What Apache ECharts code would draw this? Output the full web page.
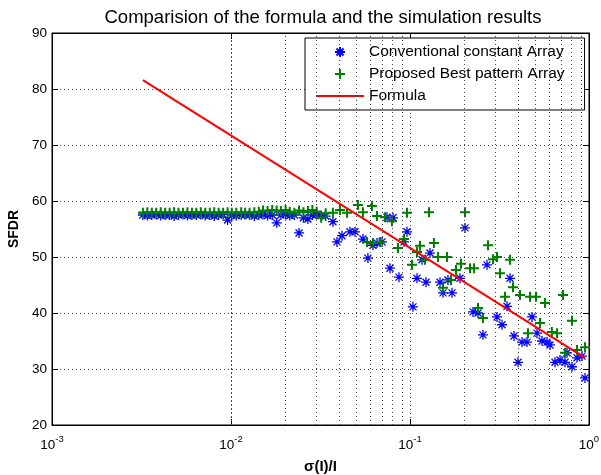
<!DOCTYPE html>
<html>
<head>
<meta charset="utf-8">
<script src="https://cdn.jsdelivr.net/npm/echarts@6/dist/echarts.min.js"></script>
<style>
html, body { margin: 0; padding: 0; background: #fff; }
#main { width: 601px; height: 475px; }
</style>
</head>
<body>
<div id="main"></div>
<script>
// flat part (sigma < 0.035): both arrays share these x values
var flatX = [0.00322, 0.00341, 0.00361, 0.00382, 0.00405, 0.00429, 0.00454, 0.00481, 0.00509, 0.00539,
	0.00571, 0.00605, 0.00640, 0.00678, 0.00718, 0.00761, 0.00806, 0.00853, 0.00904, 0.00957,
	0.0101, 0.0107, 0.0114, 0.0120, 0.0127, 0.0135, 0.0143, 0.0151, 0.0160, 0.0170,
	0.0180, 0.0190, 0.0202, 0.0213, 0.0226, 0.0240, 0.0254, 0.0269, 0.0285, 0.0301,
	0.0319, 0.0338];
var blueFlatY = [57.5, 57.4, 57.5, 57.6, 57.4, 57.5, 57.5, 57.3, 57.5, 57.6,
	57.4, 57.5, 57.5, 57.6, 57.4, 57.5, 57.3, 57.5, 57.6, 56.6,
	57.5, 57.4, 57.5, 57.6, 57.5, 57.3, 57.5, 57.6, 57.4, 57.5,
	56.1, 57.5, 57.6, 57.4, 57.5, 54.3, 57.0, 56.8, 57.5, 57.6,
	57.4, 57.3];
var greenFlatY = [57.9, 58.0, 57.9, 57.9, 58.0, 57.9, 57.9, 58.0, 57.9, 57.9,
	58.0, 57.9, 57.9, 58.0, 57.9, 57.9, 58.0, 57.9, 57.9, 58.0,
	57.9, 57.9, 58.0, 57.9, 57.9, 58.0, 58.1, 58.3, 58.2, 58.4,
	58.3, 58.2, 58.4, 58.1, 57.9, 58.3, 58.0, 58.2, 58.4, 58.1,
	57.0, 57.8];

// spread part, read point by point
var blueX = [0.0371, 0.0391, 0.0417, 0.0462, 0.0493, 0.0546, 0.0582, 0.0621, 0.0654, 0.0698,
	0.0744, 0.0804, 0.0773, 0.0868, 0.0926, 0.0962, 0.1039, 0.1094, 0.1167, 0.1229,
	0.1293, 0.1471, 0.1529, 0.1630, 0.1717, 0.1902, 0.2029, 0.2249, 0.2399, 0.2557,
	0.2692, 0.3062, 0.3266, 0.3483, 0.3620, 0.3811, 0.4012, 0.4224, 0.4504, 0.4804,
	0.5123, 0.5464, 0.5828, 0.6056, 0.6457, 0.6887, 0.7345, 0.7534, 0.8035, 0.8570,
	0.9140, 0.9500];
var blueY = [56.3, 52.7, 53.8, 54.5, 54.5, 53.2, 49.8, 52.1, 52.5, 52.7,
	57.1, 57.0, 48.0, 46.4, 52.7, 54.5, 41.1, 46.2, 49.5, 45.5,
	50.7, 45.5, 43.6, 45.9, 43.6, 46.2, 55.2, 40.2, 40.0, 36.1,
	48.6, 39.3, 37.9, 41.2, 46.2, 35.9, 31.2, 34.8, 34.8, 39.3,
	36.4, 35.0, 34.8, 34.3, 31.2, 31.6, 31.2, 32.9, 30.4, 32.0,
	32.3, 28.4];
var greenX = [0.0371, 0.0406, 0.0445, 0.0512, 0.0546, 0.0613, 0.0654, 0.0725, 0.0793, 0.0962,
	0.1277, 0.2029, 0.0575, 0.0621, 0.0680, 0.0857, 0.0926, 0.1026, 0.1094, 0.1137,
	0.1360, 0.1213, 0.1434, 0.1609, 0.1529, 0.1695, 0.1807, 0.1927, 0.2164, 0.2280,
	0.2399, 0.2557, 0.2728, 0.2909, 0.3062, 0.3183, 0.3620, 0.3762, 0.3394, 0.4117,
	0.4682, 0.5057, 0.5680, 0.7158, 0.5325, 0.4562, 0.6200, 0.6626, 0.8035, 0.7345,
	0.8570, 0.9500];
var greenY = [57.9, 58.4, 57.9, 59.3, 58.0, 59.1, 57.3, 57.1, 56.4, 57.9,
	58.0, 58.0, 52.7, 52.5, 52.7, 51.6, 53.2, 48.6, 50.9, 52.0,
	52.5, 49.5, 50.0, 50.0, 44.5, 45.9, 47.7, 48.8, 48.0, 48.0,
	40.9, 39.1, 52.1, 49.6, 50.0, 47.1, 49.5, 44.6, 42.9, 43.2,
	42.9, 42.9, 41.8, 43.2, 38.2, 36.4, 36.6, 36.4, 38.6, 32.9,
	33.4, 33.9];

var formulaX = [0.00322, 0.95];
var formulaY = [81.6, 32.0];

var minorX = [0.002, 0.003, 0.004, 0.005, 0.006, 0.007, 0.008, 0.009,
	0.02, 0.03, 0.04, 0.05, 0.06, 0.07, 0.08, 0.09,
	0.2, 0.3, 0.4, 0.5, 0.6, 0.7, 0.8, 0.9];

function zip(xs, ys) {
	var out = [];
	for (var i = 0; i < xs.length; i++) out.push([xs[i], ys[i]]);
	return out;
}

var blueData = zip(flatX, blueFlatY).concat(zip(blueX, blueY));
var greenData = zip(flatX, greenFlatY).concat(zip(greenX, greenY));
var formulaData = zip(formulaX, formulaY);

var FONT = '"Liberation Sans", Arial, Helvetica, sans-serif';
var STAR = 'path://M5,0L5,10M0,5L10,5M1.5,1.5L8.5,8.5M1.5,8.5L8.5,1.5';
var PLUS = 'path://M5,0L5,10M0,5L10,5';
var gridDots = { color: '#444', width: 1, type: [1, 3] };

var myChart = echarts.init(document.getElementById('main'));

var option = {
	backgroundColor: '#fff',
	animation: false,
	title: {
		text: 'Comparision of the formula and the simulation results',
		left: 318, top: 3, textAlign: 'center',
		textStyle: { fontFamily: FONT, fontSize: 18.5, fontWeight: 'normal', color: '#000' }
	},
	legend: {
		orient: 'vertical',
		left: 305, top: 38,
		padding: [5, 20, 5, 10],
		itemWidth: 48, itemHeight: 10, itemGap: 4,
		borderColor: '#000', borderWidth: 1,
		backgroundColor: '#fff',
		textStyle: { fontFamily: FONT, fontSize: 15.5, color: '#000', lineHeight: 18 },
		data: [
			'Conventional constant Array',
			'Proposed Best pattern Array',
			{ name: 'Formula', itemStyle: { opacity: 0 } }
		]
	},
	grid: {
		left: 52, right: 12, top: 33, bottom: 50,
		outerBoundsMode: 'none',
		show: true, borderColor: '#000', borderWidth: 1, backgroundColor: '#fff'
	},
	xAxis: [{
		type: 'log', logBase: 10, min: 0.001, max: 1,
		name: 'σ(I)/I', nameLocation: 'middle', nameGap: 34,
		nameTextStyle: { fontFamily: FONT, fontSize: 15, fontWeight: 'bold', color: '#000' },
		axisLine: { lineStyle: { color: '#000' } },
		axisTick: { inside: true, length: 6, lineStyle: { color: '#000' } },
		axisLabel: {
			margin: 9,
			formatter: function (v) {
				return '{b|10}{s|' + Math.round(Math.log10(v)) + '}';
			},
			rich: {
				b: { fontFamily: FONT, fontSize: 13.5, color: '#000', verticalAlign: 'bottom', lineHeight: 18 },
				s: { fontFamily: FONT, fontSize: 9.5, color: '#000', verticalAlign: 'top', lineHeight: 18 }
			}
		},
		splitLine: { show: true, lineStyle: gridDots }
	}, {
		type: 'log', logBase: 10, min: 0.001, max: 1, position: 'top',
		axisLine: { lineStyle: { color: '#000' } },
		axisTick: { inside: true, length: 6, lineStyle: { color: '#000' } },
		axisLabel: { show: false },
		splitLine: { show: false }
	}],
	yAxis: [{
		type: 'value', min: 20, max: 90, interval: 10,
		name: 'SFDR', nameLocation: 'middle', nameGap: 30,
		nameTextStyle: { fontFamily: FONT, fontSize: 14, fontWeight: 'bold', color: '#000' },
		axisLine: { show: true, lineStyle: { color: '#000' } },
		axisTick: { show: true, inside: true, length: 6, lineStyle: { color: '#000' } },
		axisLabel: { fontFamily: FONT, fontSize: 13.5, color: '#000', margin: 5 },
		splitLine: { show: true, lineStyle: gridDots }
	}, {
		type: 'value', min: 20, max: 90, interval: 10, position: 'right',
		axisLine: { show: true, lineStyle: { color: '#000' } },
		axisTick: { show: true, inside: true, length: 6, lineStyle: { color: '#000' } },
		axisLabel: { show: false },
		splitLine: { show: false }
	}],
	series: [
		{
			// minor grid lines of the log axis
			type: 'line', data: [], silent: true,
			markLine: {
				silent: true, symbol: ['none', 'none'], label: { show: false },
				lineStyle: gridDots, animation: false,
				data: minorX.map(function (v) { return { xAxis: v }; })
			}
		},
		{
			type: 'scatter', silent: true,
			data: minorX.map(function (v) { return [v, 20]; }),
			symbol: 'path://M0,0L0,10', symbolSize: [1, 4], symbolOffset: [0, -2],
			itemStyle: { color: 'none', borderColor: '#000', borderWidth: 1 }
		},
		{
			type: 'scatter', silent: true,
			data: minorX.map(function (v) { return [v, 90]; }),
			symbol: 'path://M0,0L0,10', symbolSize: [1, 4], symbolOffset: [0, 2],
			itemStyle: { color: 'none', borderColor: '#000', borderWidth: 1 }
		},
		{
			name: 'Conventional constant Array',
			type: 'scatter', data: blueData,
			symbol: STAR, symbolSize: 10, symbolKeepAspect: true,
			itemStyle: { color: 'none', borderColor: '#0000ff', borderWidth: 1.3, opacity: 1 },
			z: 3
		},
		{
			name: 'Proposed Best pattern Array',
			type: 'scatter', data: greenData,
			symbol: PLUS, symbolSize: 10, symbolKeepAspect: true,
			itemStyle: { color: 'none', borderColor: '#008000', borderWidth: 2, opacity: 1 },
			z: 4
		},
		{
			name: 'Formula',
			type: 'line', data: formulaData,
			symbol: 'none', showSymbol: false,
			lineStyle: { color: '#ff0000', width: 2 },
			itemStyle: { color: '#ff0000' },
			z: 5
		}
	]
};

myChart.setOption(option);
window.onresize = myChart.resize;
</script>
</body>
</html>
